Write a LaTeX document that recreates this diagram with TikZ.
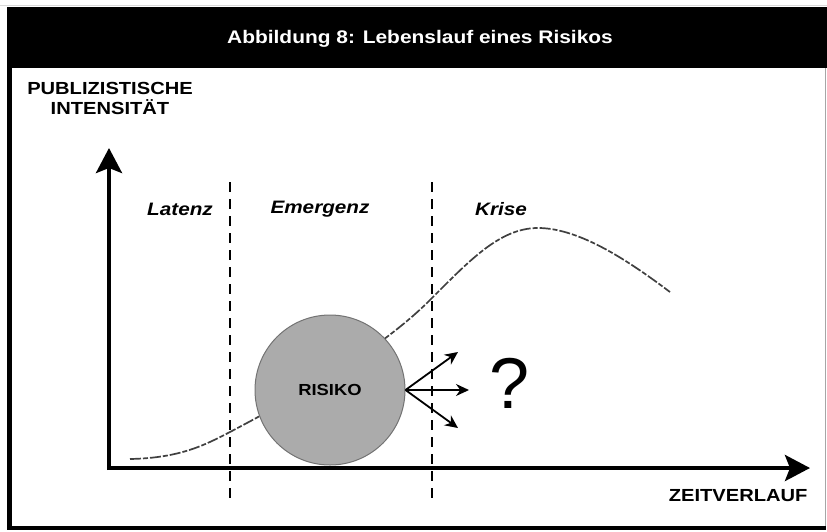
\documentclass[tikz,border=0pt]{standalone}
\usepackage{fontspec}
\setmainfont{Liberation Sans}
\newfontfamily\widesans[FakeStretch=1.15]{Liberation Sans}
\usetikzlibrary{arrows.meta}
\begin{document}
\begin{tikzpicture}[x=1pt,y=-1pt,
  lbl/.style={font=\widesans\bfseries\fontsize{17.5}{20}\selectfont},
  phase/.style={font=\widesans\bfseries\itshape\fontsize{18}{20}\selectfont},
  axis/.style={line width=4pt,-{Stealth[length=25pt,width=26pt,inset=5pt]}},
  sep/.style={line width=2.4pt,dash pattern=on 10pt off 7pt},
  curve/.style={line width=1.7pt,black!75,dash pattern=on 11pt off 2pt on 5pt off 2pt},
  outarrow/.style={line width=1.8pt,-{Stealth[length=13pt,width=12pt]}}]
\useasboundingbox (0,0) rectangle (827,531);
% frame
\draw[line width=0.8pt,black!15] (0,5) -- (827,5);
\draw[line width=0.8pt,black!35] (825,68) -- (825,528);
\draw[line width=4.5pt] (9.5,66) -- (9.5,528);
\draw[line width=3.5pt] (7,528) -- (826,528);
\fill (7,7) rectangle (827,68);
\node[text=white,font=\widesans\bfseries\fontsize{18.2}{20}\selectfont] (title) at (420,39) {Abbildung 8: Lebenslauf eines Risikos};
% axis labels
\node[lbl,align=center] (ylab) at (110,98) {PUBLIZISTISCHE\\INTENSITÄT};
\node[lbl,anchor=east] (xlab) at (811,496) {ZEITVERLAUF};
% axes
\coordinate (o) at (109,468);
\coordinate (ytip) at (109,148);
\coordinate (xtip) at (810,468);
\draw[axis] (109,470) -- (ytip);
\draw[axis] (107,468) -- (xtip);
% separators
\coordinate (s1t) at (230,182); \coordinate (s1b) at (230,500);
\coordinate (s2t) at (432,182); \coordinate (s2b) at (432,500);
\draw[sep] (s1t) -- (s1b);
\draw[sep] (s2t) -- (s2b);
% phase labels
\node[phase] (lat) at (180,209) {Latenz};
\node[phase] (emg) at (320,209) {Emergenz};
\node[phase] (kri) at (501,209) {Krise};
% curve
\coordinate (c0) at (130,459);
\coordinate (c1) at (230,432);
\coordinate (c2) at (430,300);
\coordinate (c3) at (538,228);
\coordinate (c4) at (670,292);
\draw[curve] (c0) .. controls (180,458) and (205,445) .. (c1)
  .. controls (300,395) and (380,350) .. (c2)
  .. controls (470,260) and (500,228) .. (c3)
  .. controls (580,228) and (630,262) .. (c4);
% risk circle
\node[circle,draw=black!55,line width=1pt,fill=black!33,minimum size=150pt,inner sep=0pt,font=\widesans\bfseries\fontsize{16}{18}\selectfont] (risk) at (330,390) {RISIKO};
% outcome arrows
\coordinate (a1) at (458,352);
\coordinate (a2) at (469,390);
\coordinate (a3) at (458,428);
\draw[outarrow] (risk.east) -- (a1);
\draw[outarrow] (risk.east) -- (a2);
\draw[outarrow] (risk.east) -- (a3);
\node[font=\fontsize{72}{76}\selectfont,inner sep=0pt] (q) at (510,383) {?};
\end{tikzpicture}
\end{document}
